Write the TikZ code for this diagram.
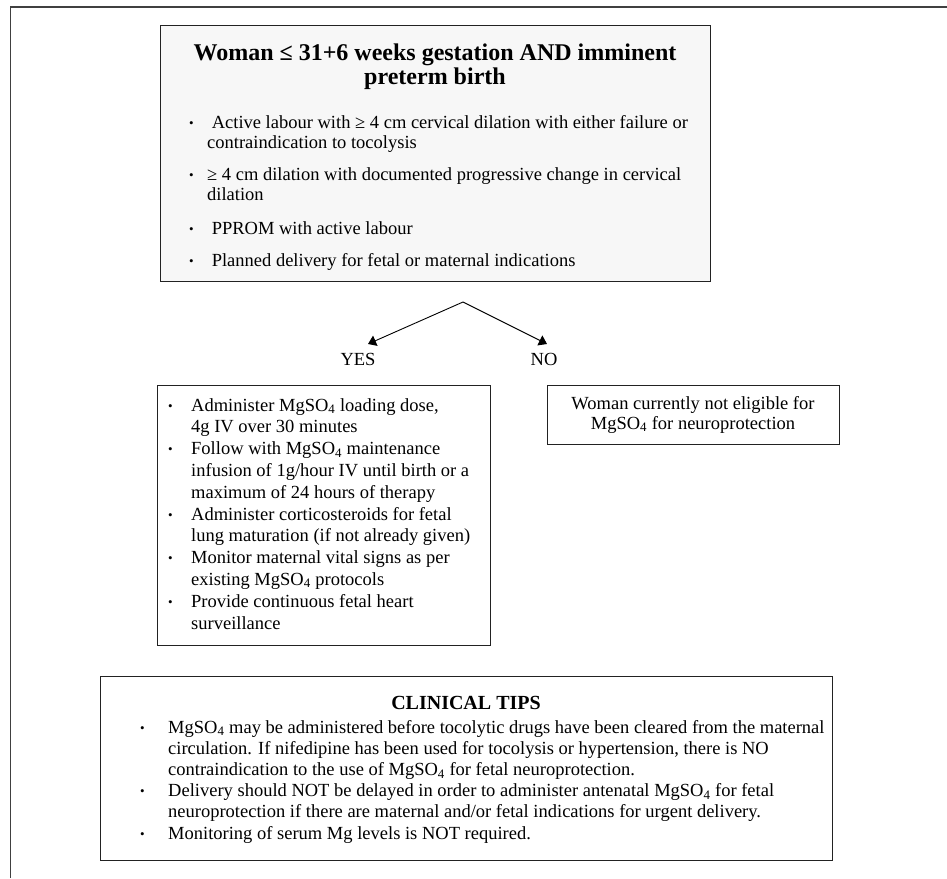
\documentclass[tikz,border=0pt]{standalone}
\usepackage{fontspec}
\setmainfont{Liberation Serif}
\usetikzlibrary{arrows.meta}
\definecolor{boxfill}{HTML}{F7F7F7}
\definecolor{edge}{HTML}{222222}
\newcommand{\bul}{\raisebox{1pt}{\fontsize{13}{13}\selectfont\textbullet}}
\newcommand{\mgso}{MgSO\textsubscript{4}}
\begin{document}
\begin{tikzpicture}[x=1pt,y=-1pt,
  boxframe/.style={draw=edge,line width=1.3pt,inner sep=0pt,anchor=north west},
  body/.style={inner sep=0pt,anchor=base west,font=\fontsize{18.5}{21.8}\selectfont},
  topbody/.style={inner sep=0pt,anchor=base west,font=\fontsize{18.5}{20.5}\selectfont},
  lbl/.style={inner sep=0pt,anchor=base,font=\fontsize{18.5}{21.8}\selectfont},
  arr/.style={draw=black,line width=0.9pt,-{Triangle[length=8pt,width=11pt]}}]
\useasboundingbox (0,0) rectangle (947,878);
\draw[draw=black!75,line width=1.4pt] (10.5,878) -- (10.5,7) -- (947,7);

% criteria box
\node[boxframe,fill=boxfill,minimum width=550pt,minimum height=256pt] (crit) at (160,25) {};
\node[inner sep=0pt,anchor=base,font=\fontsize{24}{24}\selectfont\bfseries] (title) at (435,60)
  {\begin{tabular}[t]{@{}c@{}}Woman ≤ 31+6 weeks gestation AND imminent\\preterm birth\end{tabular}};
\node[topbody] (c1) at (189,128) {\begin{tabular}[t]{@{}p{18pt}@{}l@{}}\bul & \hspace{4.6pt}Active labour with ≥ 4 cm cervical dilation with either failure or\\ & contraindication to tocolysis\end{tabular}};
\node[topbody] (c2) at (189,180) {\begin{tabular}[t]{@{}p{18pt}@{}l@{}}\bul & ≥ 4 cm dilation with documented progressive change in cervical\\ & dilation\end{tabular}};
\node[topbody] (c3) at (189,234) {\begin{tabular}[t]{@{}p{18pt}@{}l@{}}\bul & \hspace{4.6pt}PPROM with active labour\end{tabular}};
\node[topbody] (c4) at (189,266) {\begin{tabular}[t]{@{}p{18pt}@{}l@{}}\bul & \hspace{4.6pt}Planned delivery for fetal or maternal indications\end{tabular}};

% decision arrows
\coordinate (split) at (463,302);
\coordinate (yestip) at (368,344);
\coordinate (notip) at (547,344);
\draw[arr] (split) -- (yestip);
\draw[arr] (split) -- (notip);
\node[lbl] (yes) at (358,365) {YES};
\node[lbl] (no) at (544,365) {NO};

% YES box
\node[boxframe,minimum width=333pt,minimum height=260pt] (yesbox) at (157,385) {};
\node[body] (yestext) at (168,411) {\begin{tabular}[t]{@{}p{23pt}@{}l@{}}
\bul & Administer \mgso{} loading dose,\\
 & 4g IV over 30 minutes\\
\bul & Follow with \mgso{} maintenance\\
 & infusion of 1g/hour IV until birth or a\\
 & maximum of 24 hours of therapy\\
\bul & Administer corticosteroids for fetal\\
 & lung maturation (if not already given)\\
\bul & Monitor maternal vital signs as per\\
 & existing \mgso{} protocols\\
\bul & Provide continuous fetal heart\\
 & surveillance\end{tabular}};

% NO box
\node[boxframe,minimum width=292pt,minimum height=59pt] (nobox) at (547,385) {};
\node[lbl,font=\fontsize{18.5}{20}\selectfont] (notext) at (693,409)
  {\begin{tabular}[t]{@{}c@{}}Woman currently not eligible for\\\mgso{} for neuroprotection\end{tabular}};

% clinical tips
\node[boxframe,minimum width=732pt,minimum height=184pt] (tips) at (100,676) {};
\node[inner sep=0pt,anchor=base,font=\fontsize{20}{20}\selectfont\bfseries] (tipstitle) at (466,709) {CLINICAL TIPS};
\node[body,font=\fontsize{18.5}{21.2}\selectfont] (tipstext) at (140,733) {\begin{tabular}[t]{@{}p{28pt}@{}l@{}}
\bul & \mgso{} may be administered before tocolytic drugs have been cleared from the maternal\\
 & circulation. If nifedipine has been used for tocolysis or hypertension, there is NO\\
 & contraindication to the use of \mgso{} for fetal neuroprotection.\\
\bul & Delivery should NOT be delayed in order to administer antenatal \mgso{} for fetal\\
 & neuroprotection if there are maternal and/or fetal indications for urgent delivery.\\
\bul & Monitoring of serum Mg levels is NOT required.\end{tabular}};
\end{tikzpicture}
\end{document}
